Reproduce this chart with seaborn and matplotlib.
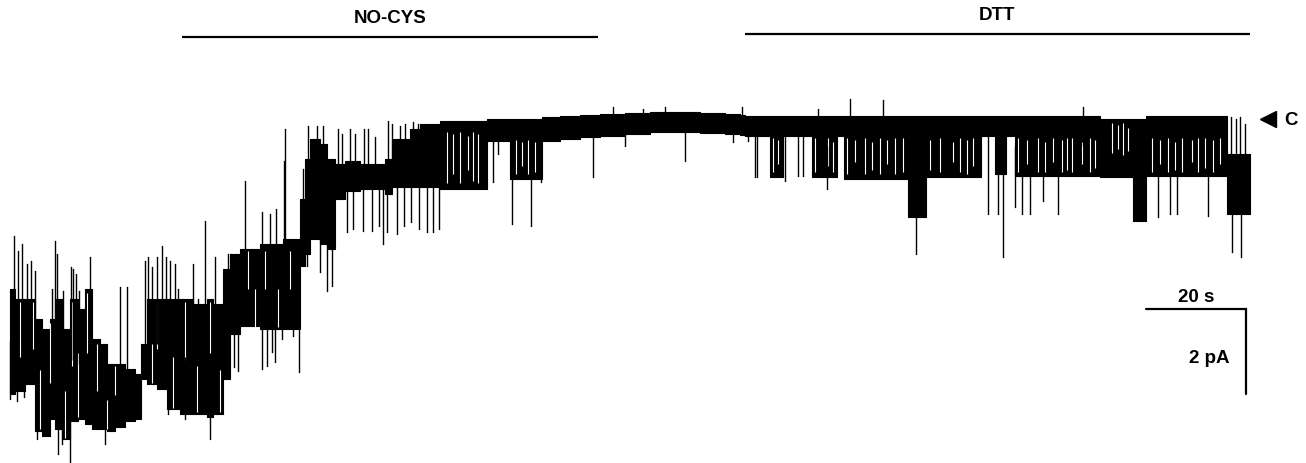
"""Single-channel current trace: NO-CYS then DTT application."""

import numpy as np
import pandas as pd
import matplotlib
matplotlib.use("Agg")
import matplotlib.pyplot as plt
import seaborn as sns

# dense core of the trace, one block per knot (step post):
# time (s), upper and lower edge (pA, closed level = 0)
core_t = [0.0, 1.0, 3.0, 5.0, 6.4, 8.0, 9.0, 10.4, 12.0, 13.6, 15.0, 16.4, 18.0,
          19.4, 21.0, 23.0, 25.0, 26.2, 27.4, 29.4, 31.4, 34.0, 36.6, 39.4,
          40.6, 42.6, 44.0, 46.0, 50.0, 54.6, 58.0, 59.0, 60.0, 62.0, 63.4,
          65.0, 67.0, 70.0, 75.0, 76.4, 80.0, 82.0, 86.0, 95.4, 100.0, 106.4,
          110.0, 114.0, 118.0, 123.0, 128.0, 138.0, 143.0, 146.0, 147.0, 152.0,
          154.6, 160.4, 165.4, 166.8, 179.6, 183.2, 194.2, 197.0, 199.2, 201.0,
          218.0, 224.6, 227.2, 243.4, 248.0]
core_hi = [-4.00, -4.24, -4.24, -4.71, -4.94, -4.71, -4.24, -4.94, -4.24, -4.47,
           -4.00, -5.18, -5.29, -5.76, -5.76, -5.88, -6.00, -5.29, -4.24, -4.24,
           -4.24, -4.24, -4.35, -4.24, -4.35, -3.53, -3.18, -3.06, -2.94, -2.82,
           -1.88, -0.94, -0.47, -0.59, -0.94, -1.06, -0.99, -1.06, -0.94, -0.47,
           -0.24, -0.12, -0.05, 0.00, 0.00, 0.05, 0.07, 0.09, 0.12, 0.14, 0.16,
           0.14, 0.12, 0.09, 0.07, 0.07, 0.07, 0.07, 0.07, 0.07, 0.07, 0.07,
           0.07, 0.07, 0.07, 0.07, 0.00, 0.00, 0.07, -0.82, -0.82]
core_lo = [-6.47, -6.40, -6.24, -7.34, -7.46, -7.06, -7.29, -7.53, -7.11, -7.06,
           -7.18, -7.29, -7.29, -7.34, -7.25, -7.11, -7.06, -6.12, -6.24, -6.35,
           -6.82, -6.94, -6.94, -7.01, -6.94, -6.12, -5.06, -4.87, -4.94, -4.94,
           -3.46, -3.18, -2.82, -2.94, -3.06, -1.88, -1.69, -1.65, -1.76, -1.60,
           -1.60, -1.60, -1.65, -0.52, -1.41, -0.52, -0.47, -0.42, -0.40, -0.35,
           -0.31, -0.33, -0.35, -0.38, -0.40, -1.36, -0.40, -1.36, -0.40, -1.41,
           -2.31, -1.36, -0.40, -1.29, -0.40, -1.34, -1.36, -2.40, -1.34, -2.24,
           -2.24]

# single long events that stick out of the core: time (s), end current (pA)
spike_t = [0.8, 1.6, 2.4, 3.4, 4.2, 5.0, 8.4, 9.0, 9.4, 10.6, 12.2, 12.6, 13.2,
           13.8, 16.0, 22.0, 23.4, 27.0, 27.6, 28.4, 29.4, 30.4, 31.2, 32.0,
           33.0, 33.6, 36.6, 37.6, 39.0, 41.0, 43.6, 44.2, 45.2, 47.0, 50.4,
           52.0, 53.2, 54.8, 55.0, 58.6, 59.6, 61.4, 62.6, 65.6, 66.4, 68.0,
           69.0, 70.8, 71.6, 73.0, 75.6, 76.4, 78.0, 79.0, 80.6, 81.6, 120.6,
           126.6, 131.0, 146.4, 161.6, 168.0, 174.6, 214.6, 244.2, 245.2, 246.0,
           247.0,
           0.0, 1.4, 2.8, 5.4, 9.6, 10.4, 12.0, 19.0, 31.6, 35.0, 40.0, 44.8,
           45.6, 50.4, 51.4, 52.4, 53.0, 54.4, 56.6, 57.8, 59.4, 62.0, 63.4,
           64.4, 67.4, 68.6, 70.6, 72.4, 73.8, 74.6, 75.4, 77.4, 78.8, 80.2,
           81.8, 83.4, 84.6, 85.8, 96.6, 97.6, 100.4, 104.2, 106.2, 116.6,
           123.0, 135.0, 144.6, 147.6, 149.0, 149.4, 155.0, 157.6, 158.6, 163.4,
           181.2, 195.6, 197.6, 198.6, 201.0, 202.4, 204.0, 206.6, 209.6, 229.6,
           232.0, 233.4, 239.6, 244.4, 246.2]
spike_i = [-2.75, -3.11, -2.94, -3.41, -3.34, -3.58, -4.00, -2.87, -3.18, -4.05,
           -3.48, -3.53, -3.65, -4.05, -3.25, -3.95, -3.95, -3.34, -3.25, -3.48,
           -3.25, -2.99, -3.25, -3.34, -3.41, -4.00, -3.41, -4.24, -2.40, -3.25,
           -3.18, -3.18, -3.18, -1.46, -2.19, -2.24, -2.12, -0.99, -0.24, -1.18,
           -0.16, -0.16, -0.16, -0.24, -0.35, -0.24, -0.35, -0.24, -0.24, -0.42,
           -0.05, -0.12, -0.16, -0.12, -0.07, -0.12, 0.28, 0.24, 0.28, 0.28,
           0.24, 0.47, 0.45, 0.28, 0.05, 0.00, 0.05, -0.12,
           -6.59, -6.64, -6.54, -7.53, -7.88, -7.65, -8.07, -7.65, -6.94, -7.06,
           -7.53, -5.84, -5.93, -5.88, -5.81, -5.48, -5.72, -5.18, -5.11, -5.95,
           -3.46, -3.60, -4.05, -3.93, -2.66, -2.59, -2.64, -2.64, -2.52, -2.94,
           -2.66, -2.71, -2.52, -2.42, -2.59, -2.66, -2.66, -2.59, -1.48, -0.82,
           -2.47, -2.52, -1.48, -1.36, -0.64, -0.99, -0.54, -0.52, -1.36, -1.36,
           -1.46, -1.34, -1.34, -1.65, -3.18, -2.24, -2.24, -3.25, -2.07, -2.24,
           -2.24, -1.93, -2.24, -2.31, -2.24, -2.24, -2.28, -3.13, -3.25]

# brief level changes inside the dense parts (white slits): time (s), from / to (pA)
gap_t = [2.0, 4.6, 6.0, 8.0, 11.0, 12.4, 13.6, 15.4, 17.4, 19.4, 21.0, 28.4,
         29.4, 32.6, 35.0, 37.4, 40.0, 42.0, 47.5, 49.0, 51.0, 53.5, 56.0,
         87.4, 88.6, 90.0, 91.6, 92.6, 93.6, 101.2, 102.4, 103.6, 105.0,
         152.6, 153.6, 161.0, 163.6, 164.6, 167.4, 169.0, 171.0, 172.4, 174.0,
         175.4, 177.0, 178.6, 184.0, 186.0, 188.6, 190.0, 191.4, 192.6, 201.6,
         203.4, 205.6, 207.0, 208.6, 210.4, 211.4, 212.4, 214.4, 216.0, 217.0,
         220.4, 221.6, 222.6, 223.6, 228.4, 230.0, 231.6, 233.0, 234.4, 236.4,
         237.6, 239.0, 240.6, 242.0]
gap_top = [-4.3, -4.3, -5.9, -4.8, -6.4, -4.3, -5.5, -4.1, -5.3, -6.6, -5.8, -5.3,
           -4.3, -5.6, -4.3, -5.8, -4.3, -5.9, -3.1, -4.0, -3.1, -4.0, -3.1,
           -0.30, -0.35, -0.30, -0.40, -0.30, -0.35, -0.50, -0.55, -0.50, -0.55,
           -0.45, -0.50, -0.45, -0.45, -0.55, -0.45, -0.50, -0.45, -0.55, -0.45,
           -0.50, -0.45, -0.45, -0.50, -0.45, -0.55, -0.45, -0.50, -0.45, -0.45,
           -0.50, -0.45, -0.55, -0.45, -0.50, -0.45, -0.45, -0.55, -0.45, -0.50,
           -0.10, -0.15, -0.10, -0.20, -0.45, -0.50, -0.45, -0.55, -0.45, -0.50,
           -0.45, -0.45, -0.50, -0.45]
gap_bot = [-5.6, -5.4, -7.3, -6.2, -7.5, -5.8, -7.0, -5.5, -6.4, -7.3, -6.5, -6.2,
           -5.4, -6.8, -5.7, -6.9, -5.5, -6.9, -4.0, -4.9, -4.0, -4.9, -4.0,
           -1.50, -1.30, -1.50, -1.20, -1.45, -1.50, -1.30, -1.10, -1.30, -1.25,
           -1.25, -1.05, -1.25, -1.10, -1.25, -1.30, -1.00, -1.30, -1.20, -1.30,
           -1.05, -1.30, -1.25, -1.20, -1.25, -1.00, -1.25, -1.30, -1.10, -1.25,
           -1.05, -1.25, -1.25, -1.00, -1.25, -1.20, -1.25, -1.05, -1.25, -1.15,
           -0.80, -0.70, -0.85, -0.75, -1.25, -1.05, -1.25, -1.20, -1.25, -1.00,
           -1.25, -1.15, -1.25, -1.05]

# solution bars above the trace
bar_labels = ["NO-CYS", "DTT"]
bar_start = [34.4, 147.0]
bar_end = [117.6, 248.0]
bar_level = [1.93, 2.0]

scale_time = 20   # s
scale_current = 2  # pA

sns.set_style("white")
plt.rcParams["font.family"] = ["Liberation Sans", "DejaVu Sans"]
plt.rcParams["text.color"] = "black"

fig = plt.figure(figsize=(13.06, 4.64), dpi=100)
ax = fig.add_axes([0, 0, 1, 1])

core = pd.DataFrame({"t": core_t, "hi": core_hi, "lo": core_lo})
ax.fill_between(core["t"], core["hi"], core["lo"], step="post",
                color="black", lw=0.8)

ax.vlines(gap_t, gap_top, gap_bot, color="white", lw=0.8)

idx = np.searchsorted(core_t, spike_t, side="right") - 1
mid = (core["hi"].values[idx] + core["lo"].values[idx]) / 2
spikes = pd.DataFrame({"t": spike_t, "base": mid, "end": spike_i})
ax.vlines(spikes["t"], spikes["base"], spikes["end"], color="black", lw=1.0)
sns.scatterplot(x="t", y="end", data=spikes, s=1, color="black",
                linewidth=0, ax=ax, legend=False)

# bars and labels
for lab, a, b, y in zip(bar_labels, bar_start, bar_end, bar_level):
    ax.hlines(y, a, b, color="black", lw=1.6)
    ax.text((a + b) / 2, y + 0.47, lab, ha="center", va="center",
            fontsize=13.5, fontweight="bold", color="black")

# closed level marker
ax.plot(251.6, 0.0, marker="<", color="black", markersize=12, clip_on=False)
ax.text(256.2, 0.0, "C", ha="center", va="center", fontsize=13.5,
        fontweight="bold", color="black")

# scale bar
sx, sy = 247.2, -4.47
ax.plot([sx - scale_time, sx, sx], [sy, sy, sy - scale_current],
        color="black", lw=1.6, solid_joinstyle="miter")
ax.text(sx - scale_time / 2, sy + 0.3, f"{scale_time} s", ha="center",
        va="center", fontsize=13.5, fontweight="bold", color="black")
ax.text(sx - 7.4, sy - scale_current / 2 - 0.15, f"{scale_current} pA",
        ha="center", va="center", fontsize=13.5, fontweight="bold",
        color="black")

ax.set_xlim(-2, 259.2)
ax.set_ylim(-8.094, 2.824)
ax.axis("off")

fig.savefig("out.png", dpi=100)
